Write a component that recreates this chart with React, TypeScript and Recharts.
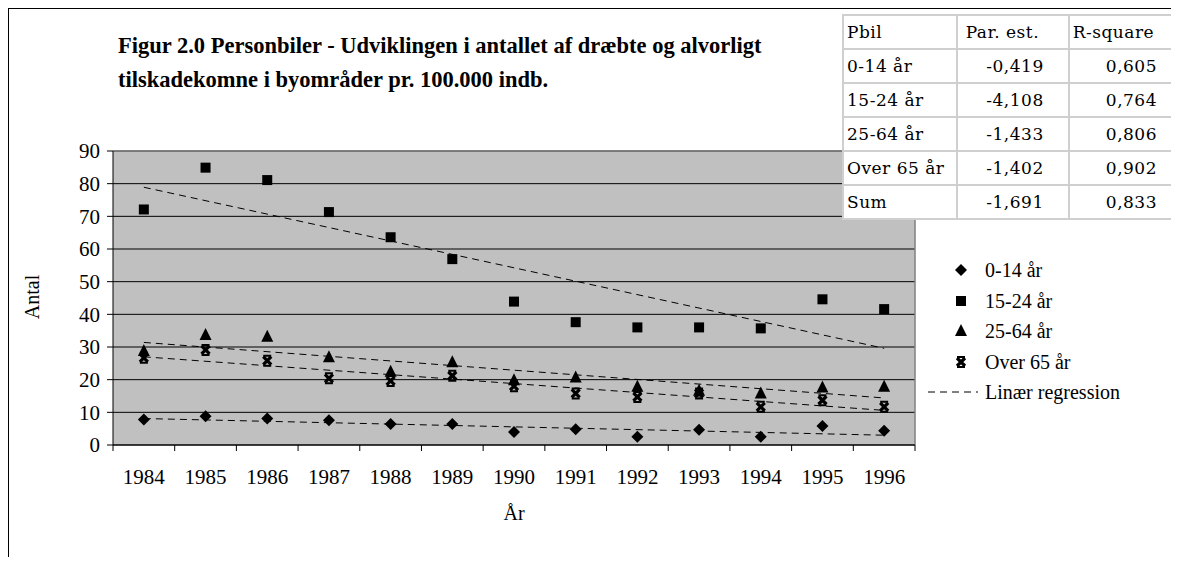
import { ComposedChart, Scatter, XAxis, YAxis, CartesianGrid, ReferenceLine } from "recharts";

const years = ["1984", "1985", "1986", "1987", "1988", "1989", "1990", "1991", "1992", "1993", "1994", "1995", "1996"];
const age0to14 = [7.8, 8.8, 8.1, 7.6, 6.4, 6.4, 4.0, 4.8, 2.5, 4.7, 2.5, 5.8, 4.4];
const age15to24 = [72.1, 84.9, 81.1, 71.3, 63.6, 56.9, 43.9, 37.6, 36.0, 36.0, 35.7, 44.6, 41.6];
const age25to64 = [28.8, 33.7, 33.1, 26.9, 22.4, 25.3, 19.8, 20.7, 17.8, 16.6, 15.8, 17.6, 17.8];
const over65 = [26.7, 29.1, 25.8, 20.4, 19.6, 21.2, 18.0, 15.8, 14.7, 15.8, 11.7, 13.7, 11.7];

// trend lines, value at 1984 and at 1996
const trendStart = [8.1, 78.9, 31.4, 27.0];
const trendEnd = [3.0, 29.6, 14.4, 10.6];

const yTicks = [0, 10, 20, 30, 40, 50, 60, 70, 80, 90];

const tableHead = ["Pbil", "Par. est.", "R-square"];
const tableNames = ["0-14 år", "15-24 år", "25-64 år", "Over 65 år", "Sum"];
const parEst = ["-0,419", "-4,108", "-1,433", "-1,402", "-1,691"];
const rSquare = ["0,605", "0,764", "0,806", "0,902", "0,833"];

const legendNames = ["0-14 år", "15-24 år", "25-64 år", "Over 65 år"];

const serif = '"Liberation Serif", "Times New Roman", serif';

const data = years.map((year, i) => ({
  year,
  pos: i + 0.5,
  a: age0to14[i],
  b: age15to24[i],
  c: age25to64[i],
  d: over65[i],
}));

const Diamond = ({ cx, cy }: any) => (
  <path d={`M${cx},${cy - 6}L${cx + 6},${cy}L${cx},${cy + 6}L${cx - 6},${cy}Z`} fill="#000" />
);
const Square = ({ cx, cy }: any) => <rect x={cx - 5} y={cy - 5} width={10} height={10} fill="#000" />;
const Triangle = ({ cx, cy }: any) => (
  <path d={`M${cx},${cy - 7}L${cx + 6},${cy + 5}L${cx - 6},${cy + 5}Z`} fill="#000" />
);
// x with a bar on top and bottom
const Star = ({ cx, cy }: any) => (
  <g stroke="#000" fill="none">
    <path d={`M${cx - 4},${cy - 5}H${cx + 4}M${cx - 4},${cy + 5}H${cx + 4}`} strokeWidth={2} />
    <path d={`M${cx - 4},${cy - 4}L${cx + 4},${cy + 4}M${cx + 4},${cy - 4}L${cx - 4},${cy + 4}`} strokeWidth={3.2} />
  </g>
);

const shapes = [Diamond, Square, Triangle, Star];
const keys = ["a", "b", "c", "d"];

const cell = {
  border: "2px solid #cfcfcf",
  height: 32,
  padding: "0 3px",
  whiteSpace: "nowrap" as const,
};

export default function App() {
  const first = data[0].pos;
  const last = data[data.length - 1].pos;
  return (
    <div
      style={{
        position: "relative",
        width: 1171,
        height: 557,
        marginBottom: -8,
        boxSizing: "border-box",
        borderTop: "1px solid #000",
        borderLeft: "1px solid #000",
        fontFamily: serif,
        overflow: "hidden",
      }}
    >
      <ComposedChart
        width={1170}
        height={556}
        data={data}
        margin={{ top: 142, right: 264, bottom: 74, left: 44 }}
      >
        <CartesianGrid vertical={false} stroke="#000" fill="#c0c0c0" fillOpacity={1} />
        <XAxis
          dataKey="pos"
          type="number"
          domain={[0, 13]}
          ticks={[0, 1, 2, 3, 4, 5, 6, 7, 8, 9, 10, 11, 12, 13]}
          interval={0}
          height={6}
          tickSize={6}
          tickFormatter={() => ""}
          stroke="#000"
          allowDataOverflow
        />
        <XAxis
          xAxisId="lbl"
          dataKey="pos"
          type="number"
          domain={[0, 13]}
          ticks={data.map((d) => d.pos)}
          interval={0}
          height={40}
          tickSize={0}
          tickMargin={18}
          axisLine={false}
          tickLine={false}
          tickFormatter={(v: number) => years[Math.floor(v)]}
          tick={{ fill: "#000", fontSize: 21, fontFamily: serif }}
          allowDataOverflow
        />
        <YAxis
          domain={[0, 90]}
          ticks={yTicks}
          interval={0}
          width={60}
          tickSize={6}
          tickMargin={7}
          stroke="#000"
          tick={{ fill: "#000", fontSize: 21, fontFamily: serif }}
          allowDataOverflow
        />
        <ReferenceLine y={90} stroke="#808080" strokeWidth={1.5} />
        <ReferenceLine x={13} stroke="#808080" strokeWidth={1.5} />
        {trendStart.map((s, i) => (
          <ReferenceLine
            key={"t" + i}
            segment={[
              { x: first, y: s },
              { x: last, y: trendEnd[i] },
            ]}
            stroke="#000"
            strokeDasharray="7 5"
            ifOverflow="visible"
          />
        ))}
        {keys.map((k, i) => (
          <Scatter key={k} dataKey={k} shape={shapes[i]} isAnimationActive={false} />
        ))}
      </ComposedChart>

      <div
        style={{
          position: "absolute",
          left: 109,
          top: 20,
          fontSize: 22.5,
          fontWeight: "bold",
          lineHeight: "34px",
          whiteSpace: "nowrap",
        }}
      >
        <div>Figur 2.0 Personbiler - Udviklingen i antallet af dræbte og alvorligt</div>
        <div>tilskadekomne i byområder pr. 100.000 indb.</div>
      </div>

      <div
        style={{
          position: "absolute",
          left: 23,
          top: 288,
          fontSize: 20,
          transform: "translate(-50%, -50%) rotate(-90deg)",
        }}
      >
        Antal
      </div>
      <div
        style={{
          position: "absolute",
          left: 505,
          top: 504,
          fontSize: 20,
          transform: "translate(-50%, -50%)",
        }}
      >
        År
      </div>

      <table
        style={{
          position: "absolute",
          left: 833,
          top: 5,
          borderCollapse: "collapse",
          background: "#fff",
          fontFamily: '"DejaVu Serif", serif',
          fontSize: 17,
          letterSpacing: 0.5,
          tableLayout: "fixed",
        }}
      >
        <colgroup>
          <col style={{ width: 114 }} />
          <col style={{ width: 113 }} />
          <col style={{ width: 110 }} />
        </colgroup>
        <tbody>
          <tr>
            {tableHead.map((h, i) => (
              <td key={h} style={{ ...cell, paddingLeft: i === 1 ? 8 : 3 }}>
                {h}
              </td>
            ))}
          </tr>
          {tableNames.map((n, i) => (
            <tr key={n}>
              <td style={cell}>{n}</td>
              <td style={{ ...cell, textAlign: "right", paddingRight: 24 }}>{parEst[i]}</td>
              <td style={{ ...cell, textAlign: "right", paddingRight: 20 }}>{rSquare[i]}</td>
            </tr>
          ))}
        </tbody>
      </table>

      <div style={{ position: "absolute", left: 919, top: 246, fontSize: 20, lineHeight: "30.5px" }}>
        {legendNames.map((n, i) => {
          const Shape = shapes[i];
          return (
            <div key={n} style={{ display: "flex", alignItems: "center" }}>
              <svg width={57} height={20}>
                <Shape cx={33} cy={10} />
              </svg>
              <span>{n}</span>
            </div>
          );
        })}
        <div style={{ display: "flex", alignItems: "center" }}>
          <svg width={57} height={20}>
            <line x1={0} y1={10} x2={50} y2={10} stroke="#000" strokeDasharray="7 5" />
          </svg>
          <span>Linær regression</span>
        </div>
      </div>
    </div>
  );
}
